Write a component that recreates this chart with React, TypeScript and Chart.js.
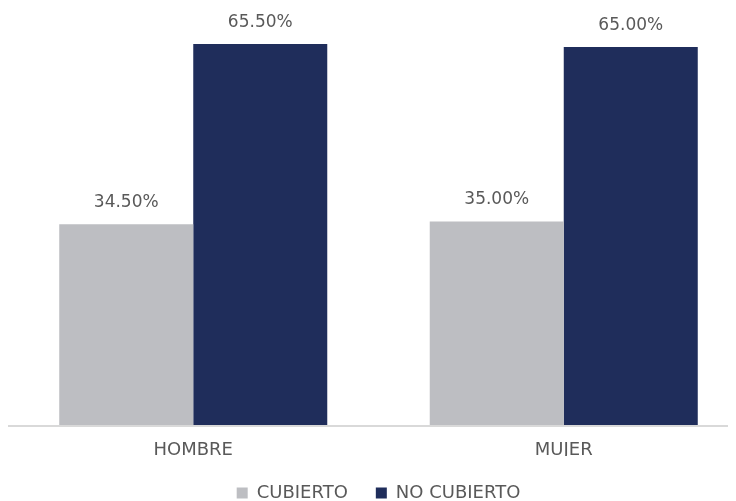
import React, { useEffect, useRef } from "react";
import { Chart, registerables } from "chart.js";

Chart.register(...registerables);

const categories = ["HOMBRE", "MUJER"];
const seriesNames = ["CUBIERTO", "NO CUBIERTO"];
const cubierto = [34.5, 35.0];
const noCubierto = [65.5, 65.0];
const colors = ["#BDBEC2", "#1F2D5B"];

const FONT = "'DejaVu Sans', sans-serif";

const valueLabels = {
  id: "valueLabels",
  afterDatasetsDraw(chart: any) {
    const ctx = chart.ctx;
    ctx.save();
    ctx.font = `17px ${FONT}`;
    ctx.fillStyle = "#595959";
    ctx.textAlign = "center";
    ctx.textBaseline = "bottom";
    chart.data.datasets.forEach((ds: any, di: number) => {
      const meta = chart.getDatasetMeta(di);
      meta.data.forEach((bar: any, i: number) => {
        const v = ds.data[i] as number;
        ctx.fillText(v.toFixed(2) + "%", bar.x, bar.y - 13);
      });
    });
    ctx.restore();
  },
};

const axisLine = {
  id: "axisLine",
  afterDatasetsDraw(chart: any) {
    const ctx = chart.ctx;
    const y = chart.chartArea.bottom + 1;
    ctx.save();
    ctx.strokeStyle = "#D9D9D9";
    ctx.lineWidth = 2;
    ctx.beginPath();
    ctx.moveTo(chart.chartArea.left, y);
    ctx.lineTo(chart.width, y);
    ctx.stroke();
    ctx.restore();
  },
};

export default function App() {
  const ref = useRef<HTMLCanvasElement>(null);
  useEffect(() => {
    document.body.style.overflow = "hidden";
    const chart = new Chart(ref.current!, {
      type: "bar",
      data: {
        labels: categories,
        datasets: [
          { label: seriesNames[0], data: cubierto, backgroundColor: colors[0] },
          { label: seriesNames[1], data: noCubierto, backgroundColor: colors[1] },
        ],
      },
      options: {
        animation: false,
        responsive: true,
        maintainAspectRatio: false,
        layout: { padding: { left: 0, right: 0, top: 0, bottom: -11 } },
        datasets: {
          bar: { barPercentage: 1, categoryPercentage: 0.7234 },
        },
        scales: {
          x: {
            grid: { display: false },
            border: { display: false },
            ticks: { color: "#595959", font: { family: FONT, size: 18 }, padding: 7 },
            afterFit: (s: any) => {
              s.height = 31;
            },
          },
          y: {
            display: false,
            min: 0,
            max: 71.7,
          },
        },
        plugins: {
          legend: {
            position: "bottom",
            labels: {
              color: "#595959",
              font: { family: FONT, size: 18 },
              boxWidth: 11,
              boxHeight: 11,
              padding: 28,
            },
          },
          tooltip: { enabled: false },
        },
      },
      plugins: [valueLabels, axisLine],
    });
    return () => chart.destroy();
  }, []);
  return (
    <div style={{ width: 741, height: 493, position: "relative" }}>
      <canvas ref={ref} />
    </div>
  );
}
